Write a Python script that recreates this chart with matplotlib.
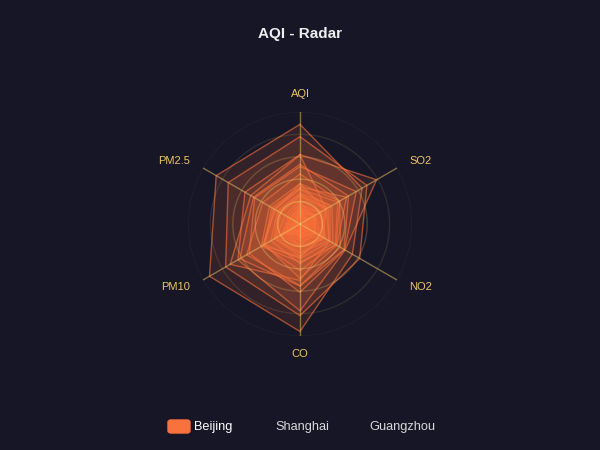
import numpy as np
import matplotlib
matplotlib.use("Agg")
from matplotlib import pyplot as plt
from matplotlib.patches import FancyBboxPatch

# radar indicators, counter-clockwise from the top
indicators = ['AQI', 'PM2.5', 'PM10', 'CO', 'NO2', 'SO2']
max_values = [300, 250, 300, 5, 200, 100]

# Beijing daily values: AQI, PM2.5, PM10, CO, NO2, SO2
data_bj = [
    [55, 9, 56, 0.46, 18, 6],
    [25, 11, 21, 0.65, 34, 9],
    [56, 7, 63, 0.3, 14, 5],
    [33, 7, 29, 0.33, 16, 6],
    [42, 24, 44, 0.76, 40, 16],
    [82, 58, 90, 1.77, 68, 33],
    [74, 49, 77, 1.46, 48, 27],
    [78, 55, 80, 1.29, 59, 29],
    [267, 216, 280, 4.8, 108, 64],
    [185, 127, 216, 2.52, 61, 27],
    [39, 19, 38, 0.57, 31, 15],
    [41, 11, 40, 0.43, 21, 7],
    [64, 38, 74, 1.04, 46, 22],
    [108, 79, 120, 1.7, 75, 41],
    [108, 63, 116, 1.48, 44, 26],
    [33, 6, 29, 0.34, 13, 5],
    [94, 66, 110, 1.54, 62, 31],
    [186, 142, 192, 3.88, 93, 79],
    [57, 31, 54, 0.96, 32, 14],
    [22, 8, 17, 0.48, 23, 10],
    [39, 15, 36, 0.61, 29, 13],
    [94, 69, 114, 2.08, 73, 39],
    [99, 73, 110, 2.43, 76, 48],
    [31, 12, 30, 0.5, 32, 16],
    [42, 27, 43, 1, 53, 22],
    [154, 117, 157, 3.05, 92, 58],
    [234, 185, 230, 4.09, 123, 69],
    [160, 120, 186, 2.77, 91, 50],
    [134, 96, 165, 2.76, 83, 41],
    [52, 24, 60, 1.03, 50, 21],
    [46, 5, 49, 0.28, 10, 6],
]

legend_names = ['Beijing', 'Shanghai', 'Guangzhou']

BG = '#161627'
GOLD = (238/255, 197/255, 102/255)
ORANGE = '#F9713C'

plt.rcParams['font.family'] = ['Liberation Sans', 'DejaVu Sans']

fig = plt.figure(figsize=(6, 4.5), dpi=100)
fig.patch.set_facecolor(BG)

W, H = 600, 450
cx, cy, R = 300, 224, 112
ax = fig.add_axes([(cx - R) / W, (H - cy - R) / H, 2 * R / W, 2 * R / H],
                  projection='polar')
ax.set_theta_offset(np.pi / 2)
ax.set_ylim(0, 1)
ax.axis('off')

n = len(indicators)
theta = np.arange(n) * 2 * np.pi / n

# Beijing series
tc = np.append(theta, theta[0])
for row in data_bj:
    r = np.array(row) / np.array(max_values)
    rc = np.append(r, r[0])
    ax.fill(tc, rc, color=ORANGE, alpha=0.13, lw=0, zorder=2)
    ax.plot(tc, rc, color=ORANGE, alpha=0.6, lw=1, zorder=3)

# split circles, brighter towards the centre
split_alpha = [1, 0.8, 0.6, 0.4, 0.2, 0.1]
tt = np.linspace(0, 2 * np.pi, 300)
for k in range(1, 6):
    ax.plot(tt, np.full_like(tt, k / 5), color=GOLD, alpha=split_alpha[k] * 0.6,
            lw=1, zorder=4)

# axis spokes
for t in theta:
    ax.plot([t, t], [0, 1], color=GOLD, alpha=0.5, lw=1, zorder=4)

# indicator names
for t, name in zip(theta, indicators):
    c = np.cos(t + np.pi / 2)
    if abs(c) < 0.01:
        ax.text(t, 1.16, name, ha='center', va='center', color=GOLD,
                fontsize=8, clip_on=False)
    else:
        ax.text(t, 1.13, name, ha='left' if c > 0 else 'right', va='center',
                color=GOLD, fontsize=8, clip_on=False)

# title
fig.text(0.5, 1 - 34 / H, 'AQI - Radar', ha='center', va='center',
         color='#eeeeee', fontsize=11, fontweight='bold')

# legend (single selection: Beijing)
fig.patches.append(FancyBboxPatch((168 / W, 1 - 433 / H), 22 / W, 13 / H,
                                  boxstyle='round,pad=0,rounding_size=0.005',
                                  transform=fig.transFigure, color=ORANGE))
leg_x = [194, 275, 369]
for x, name in zip(leg_x, legend_names):
    fig.text(x / W, 1 - 427 / H, name, ha='left', va='center',
             color='#ffffff' if name == 'Beijing' else '#d8d8d8', fontsize=9.2)

fig.savefig('out.png', facecolor=BG)
